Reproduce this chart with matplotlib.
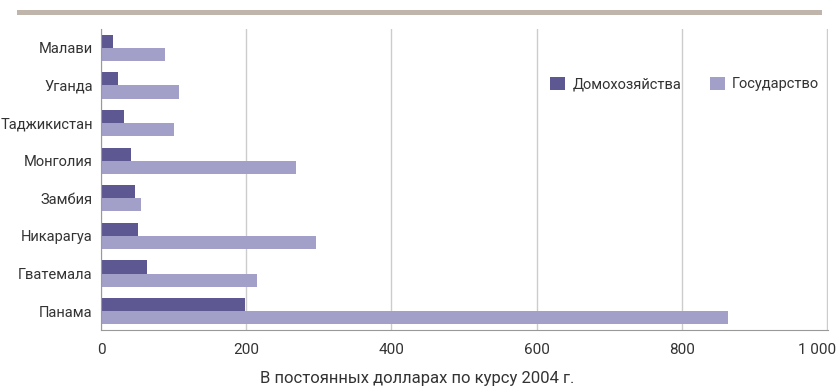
import matplotlib.pyplot as plt
import matplotlib.transforms as mtransforms
import numpy as np
from matplotlib.patches import Rectangle

plt.rcParams['font.family'] = ['Roboto', 'DejaVu Sans']

countries = ['Малави', 'Уганда', 'Таджикистан', 'Монголия', 'Замбия',
             'Никарагуа', 'Гватемала', 'Панама']
households = [16, 23, 32, 41, 47, 51, 63, 198]
government = [88, 107, 100, 269, 55, 296, 215, 864]

fig = plt.figure(figsize=(8.38, 3.86), dpi=100)
ax = fig.add_axes([0.1205, 0.145, 0.8675, 0.78])

y = np.arange(len(countries))
h = 0.35
ax.barh(y - h / 2, households, height=h, color='#5d5891', label='Домохозяйства')
ax.barh(y + h / 2, government, height=h, color='#a29fc8', label='Государство')

ax.set_ylim(len(countries) - 0.5, -0.5)
ax.set_yticks(y)
ax.set_yticklabels(countries, fontsize=10.5, color='#333333')
ax.set_xlim(0, 1001)
ax.set_xticks([0, 200, 400, 600, 800, 1000])
ax.set_xticklabels(['0', '200', '400', '600', '800', '1 000'], fontsize=11, color='#333333')
ax.tick_params(length=0, pad=6)
ax.tick_params(axis='x', pad=9)
ax.grid(axis='x', color='#cccccc', linewidth=1)
ax.set_axisbelow(True)
for s in ['top', 'right']:
    ax.spines[s].set_visible(False)
ax.spines['left'].set_color('#999999')
ax.spines['bottom'].set_color('#999999')
ax.set_xlabel('В постоянных долларах по курсу 2004 г.', fontsize=12, color='#333333')
ax.xaxis.set_label_coords(0.435, -0.135)

# pull the last tick label in so it stays inside the figure
last = ax.get_xticklabels()[-1]
last.set_transform(last.get_transform() +
                   mtransforms.ScaledTranslation(-0.1, 0, fig.dpi_scale_trans))

ax.legend(loc='upper left', bbox_to_anchor=(0.6, 0.885), ncol=2, frameon=False,
          fontsize=10.5, handlelength=1.0, handleheight=1.0, columnspacing=2.0,
          handletextpad=0.5, labelcolor='#333333')

# decorative band at the top
fig.add_artist(Rectangle((17 / 838, 1 - 15 / 386), (822 - 17) / 838, 5 / 386,
                         transform=fig.transFigure, color='#bfb5ab', lw=0))

fig.savefig('out.png', dpi=100)
